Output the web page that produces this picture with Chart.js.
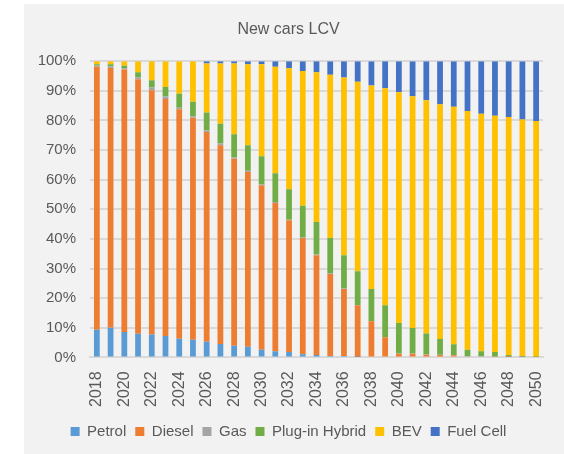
<!DOCTYPE html>
<html>
<head>
<meta charset="utf-8">
<script src="https://cdn.jsdelivr.net/npm/chart.js@4.4.1/dist/chart.umd.min.js"></script>
<style>
  html, body { margin: 0; padding: 0; background: #ffffff; }
  #panel {
    position: absolute;
    left: 24px;
    top: 4px;
    width: 540px;
    height: 450px;
    background: #f2f2f2;
  }
  canvas { display: block; }
</style>
</head>
<body>
<div id="panel"><canvas id="lcvChart" width="540" height="450"></canvas></div>
<script>
// Jahre
const years = ['2018', '2019', '2020', '2021', '2022', '2023', '2024', '2025', '2026', '2027', '2028',
  '2029', '2030', '2031', '2032', '2033', '2034', '2035', '2036', '2037', '2038', '2039',
  '2040', '2041', '2042', '2043', '2044', '2045', '2046', '2047', '2048', '2049', '2050'];

// Anteile in %
const petrol = [9.3, 10.0, 8.6, 8.0, 7.7, 7.2, 6.3, 6.0, 5.3, 4.5, 3.9,
  3.6, 2.6, 2.1, 1.8, 1.1, 0.8, 0.5, 0.5, 0.1, 0, 0,
  0, 0, 0, 0, 0, 0, 0, 0, 0, 0, 0];
const diesel = [88.8, 87.7, 88.6, 85.9, 82.5, 80.0, 77.5, 74.9, 70.8, 67.1, 63.2,
  59.0, 55.5, 50.0, 44.5, 39.2, 33.7, 27.7, 22.6, 17.5, 12.2, 6.8,
  1.2, 1.2, 0.9, 0.8, 0.7, 0.3, 0.3, 0.2, 0.1, 0, 0];
const gas = [0.4, 0.5, 0.4, 0.7, 0.9, 0.9, 0.5, 0.5, 0.6, 0.6, 0.4,
  0.4, 0.3, 0.4, 0.2, 0.2, 0.2, 0.2, 0.2, 0.1, 0.1, 0.1,
  0.1, 0.1, 0.1, 0.1, 0.1, 0.1, 0.1, 0.1, 0.1, 0.1, 0];
const plugInHybrid = [0.5, 0.8, 0.9, 1.7, 2.5, 3.2, 4.7, 4.9, 6.0, 6.7, 7.8,
  8.6, 9.5, 9.7, 10.3, 10.7, 11.0, 11.9, 11.2, 11.4, 10.8, 10.7,
  10.3, 8.6, 7.1, 5.3, 3.6, 2.2, 1.7, 1.5, 0.6, 0.4, 0.1];
const bev = [1.0, 1.0, 1.5, 3.7, 6.4, 8.7, 11.0, 13.7, 16.5, 20.3, 23.9,
  27.4, 31.1, 35.9, 40.8, 45.5, 50.6, 55.1, 60.0, 64.0, 68.7, 73.3,
  77.9, 78.3, 78.7, 79.3, 80.2, 80.6, 80.2, 79.8, 80.4, 79.8, 79.7];
const fuelCell = [0, 0, 0, 0, 0, 0, 0, 0, 0.8, 0.8, 0.8,
  1.0, 1.0, 1.9, 2.4, 3.3, 3.7, 4.6, 5.5, 6.9, 8.2, 9.1,
  10.5, 11.8, 13.2, 14.5, 15.4, 16.8, 17.7, 18.4, 18.8, 19.7, 20.2];

const yTicks = [0, 10, 20, 30, 40, 50, 60, 70, 80, 90, 100];

const series = [
  { label: 'Petrol', data: petrol, color: '#5b9bd5' },
  { label: 'Diesel', data: diesel, color: '#ed7d31' },
  { label: 'Gas', data: gas, color: '#a5a5a5' },
  { label: 'Plug-in Hybrid', data: plugInHybrid, color: '#70ad47' },
  { label: 'BEV', data: bev, color: '#ffc000' },
  { label: 'Fuel Cell', data: fuelCell, color: '#4472c4' }
];

const textColor = '#595959';
const fontFamily = '"Liberation Sans", Arial, sans-serif';

const ctx = document.getElementById('lcvChart');
ctx.chart = new Chart(ctx, {
  type: 'bar',
  data: {
    labels: years,
    datasets: series.map(s => ({
      label: s.label,
      data: s.data,
      backgroundColor: s.color,
      borderWidth: 0,
      barPercentage: 0.42,
      categoryPercentage: 1.0
    }))
  },
  options: {
    responsive: false,
    animation: false,
    devicePixelRatio: 1,
    layout: {
      padding: { left: 10, right: 21, top: 0, bottom: 5 }
    },
    plugins: {
      title: {
        display: true,
        text: 'New cars LCV',
        color: textColor,
        font: { family: fontFamily, size: 16, weight: 'normal' },
        padding: { top: 16, bottom: 22 }
      },
      legend: {
        position: 'bottom',
        labels: {
          color: textColor,
          font: { family: fontFamily, size: 15 },
          boxWidth: 9,
          boxHeight: 9,
          padding: 9
        }
      },
      tooltip: { enabled: false }
    },
    scales: {
      x: {
        stacked: true,
        grid: { display: false },
        border: { color: '#d9d9d9', width: 2 },
        afterFit: function(scale) { scale.height += 2; },
        ticks: {
          color: textColor,
          font: { family: fontFamily, size: 16 },
          minRotation: 90,
          maxRotation: 90,
          autoSkip: false,
          padding: 6,
          callback: function(value, index) {
            return index % 2 === 0 ? this.getLabelForValue(value) : '';
          }
        }
      },
      y: {
        stacked: true,
        min: 0,
        max: 100,
        afterFit: function(scale) { scale.width = 56; },
        afterBuildTicks: function(scale) {
          scale.ticks = yTicks.map(v => ({ value: v }));
        },
        grid: { color: '#d9d9d9', lineWidth: 2, drawTicks: false },
        border: { display: false },
        ticks: {
          color: textColor,
          font: { family: fontFamily, size: 15 },
          padding: 14,
          callback: v => v + '%'
        }
      }
    }
  }
});
</script>
</body>
</html>
